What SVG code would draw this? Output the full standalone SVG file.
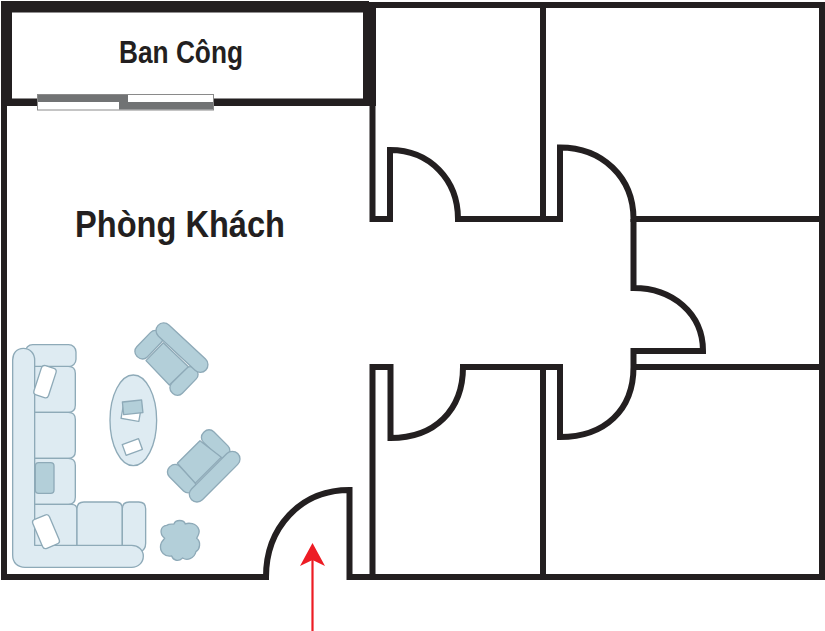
<svg xmlns="http://www.w3.org/2000/svg" width="825" height="631" viewBox="0 0 825 631">
<style>
.w{fill:none;stroke:#231f20;stroke-width:6;stroke-linejoin:miter}
.t{font-family:"Liberation Sans",Arial,sans-serif;font-weight:bold;fill:#231f20}
.l{fill:#deebf2;stroke:#8eaab8;stroke-width:4;stroke-linejoin:round}
.d{fill:#b3cfd9;stroke:#8eaab8;stroke-width:4;stroke-linejoin:round}
.p{fill:#fff;stroke:#8eaab8;stroke-width:4;stroke-linejoin:round}
</style>
<rect width="825" height="631" fill="#fff"/>
<g id="walls">
<path class="w" d="M4 106V5H822V577H349.500V490C300 490 266 528 266 577H4V106"/>
<path d="M1 1H369V7H376V106H1ZM12 12.500V98.500H363V12.500Z" fill="#231f20" fill-rule="evenodd"/>
<path class="w" d="M372.500 5V219H390V150C430 150 458 180 458 219H560V147.500C602 147.500 633.500 177 633.500 219H825M543 5V219"/>
<path class="w" d="M633.500 219V288C672 288 703 313 703 351H633.500V367C633.500 410 605 437 560 437V367H463C463 410 435 438 390.500 438V367H372.500V577M633.500 367H825M543 367V577"/>
</g>
<g id="window">
<rect x="37.500" y="94.500" width="176" height="15.500" fill="#fff" stroke="#8a8a8a" stroke-width="1"/>
<rect x="38" y="95" width="90" height="7" fill="#717374"/>
<rect x="119" y="102" width="94" height="7.500" fill="#717374"/>
</g>
<g id="furniture" transform="translate(0 320) scale(.3333)">
<rect class="l" x="76" y="74" width="152" height="66" rx="22"/>
<path class="l" d="M100 139H205Q226 139 226 160V256Q226 277 205 277H100Z"/>
<path class="l" d="M100 277H205Q226 277 226 298V394Q226 415 205 415H100Z"/>
<path class="l" d="M100 415H205Q226 415 226 436V532Q226 553 205 553H100Z"/>
<path class="l" d="M100 553H215Q231 553 231 570V680H100Z"/>
<path class="l" d="M231 680V566Q231 546 252 546H347Q367 546 367 566V680Z"/>
<path class="l" d="M367 566Q367 546 388 546H416Q437 546 437 566V670Q437 690 420 697H367Z"/>
<path class="l" d="M70 85C50 85 38 100 38 120V705C38 728 52 742 75 742H395C415 742 430 728 430 708C430 690 415 676 395 676H104V120C104 100 90 85 70 85Z"/>
<rect class="p" x="-23" y="-46" width="46" height="92" rx="10" transform="translate(135 185) rotate(18)"/>
<rect class="d" x="106" y="428" width="56" height="92" rx="10"/>
<rect class="p" x="-27" y="-47" width="54" height="94" rx="10" transform="translate(138 635) rotate(-23)"/>
<ellipse class="l" cx="400" cy="301" rx="70" ry="136"/>
<rect class="p" x="-27" y="-24" width="54" height="48" transform="translate(394 276) rotate(10)"/>
<rect class="d" x="-29" y="-19" width="58" height="38" transform="translate(398 262) rotate(-6)"/>
<rect class="p" x="-26" y="-17" width="52" height="34" transform="translate(397 381) rotate(-20)"/>
<g id="chair1">
<rect class="d" x="-50" y="-22" width="100" height="44" rx="20" transform="translate(447 74) rotate(-46)"/>
<rect class="d" x="-50" y="-22" width="100" height="44" rx="20" transform="translate(552 183) rotate(-46)"/>
<path class="d" d="M490 68L565 140L508 195L438 122Z"/>
<rect class="d" x="-98" y="-23" width="196" height="46" rx="23" transform="translate(546 83) rotate(43)"/>
</g>
<g id="chair2">
<rect class="d" x="-50" y="-22" width="100" height="44" rx="20" transform="translate(647 372) rotate(45)"/>
<rect class="d" x="-50" y="-22" width="100" height="44" rx="20" transform="translate(545 476) rotate(45)"/>
<path class="d" d="M532 430L600 362L664 412L586 490Z"/>
<rect class="d" x="-98" y="-23" width="196" height="46" rx="23" transform="translate(644 470) rotate(-45)"/>
</g>
<path class="d" d="M500 616C510 610 518 614 522 612C526 598 552 598 556 612C565 608 590 608 597 630C600 640 592 650 590 655C604 665 600 688 588 695C582 718 560 722 548 714C535 726 520 722 515 708C495 712 478 695 482 675C484 665 490 660 494 655C476 640 482 618 500 616Z"/>
</g>
<g id="labels">
<text class="t" x="119" y="63" font-size="31" textLength="124" lengthAdjust="spacingAndGlyphs">Ban Công</text>
<text class="t" x="75" y="237" font-size="37" textLength="210" lengthAdjust="spacingAndGlyphs">Phòng Khách</text>
</g>
<g id="connectors">
<path d="M312.500 631V558" stroke="#ed1c24" stroke-width="2.200" fill="none"/>
<path d="M312.500 543L325 566L312.500 560L300 566Z" fill="#ed1c24"/>
</g>
</svg>
